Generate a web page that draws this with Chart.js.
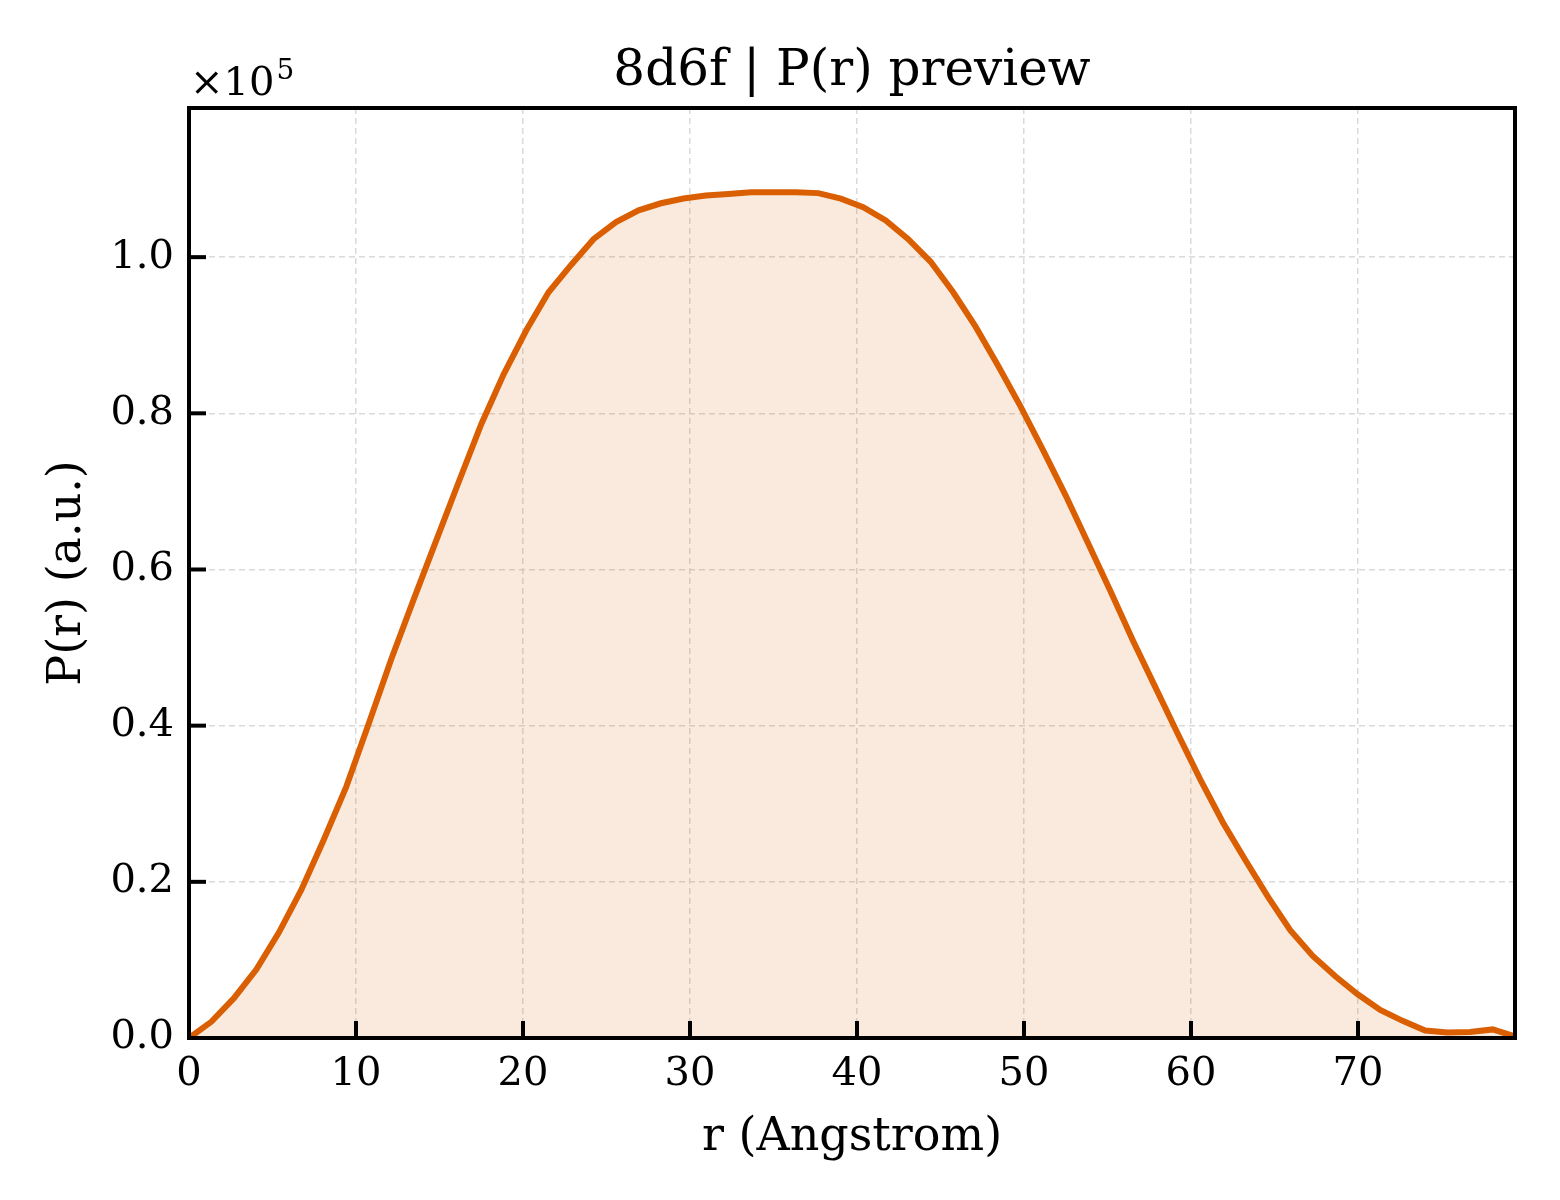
<!DOCTYPE html>
<html>
<head>
<meta charset="utf-8">
<script src="https://cdn.jsdelivr.net/npm/chart.js@4/dist/chart.umd.min.js"></script>
<style>
  html, body { margin: 0; padding: 0; background: #fff; }
  #wrap { width: 1560px; height: 1200px; }
</style>
</head>
<body>
<div id="wrap"><canvas id="pr" width="1560" height="1200"></canvas></div>
<script>
const rValues = [
  0.00, 1.35, 2.69, 4.04, 5.38, 6.73, 8.07, 9.42, 10.77, 12.11,
  13.46, 14.80, 16.15, 17.50, 18.84, 20.19, 21.53, 22.88, 24.22, 25.57,
  26.92, 28.26, 29.61, 30.95, 32.30, 33.65, 34.99, 36.34, 37.68, 39.03,
  40.37, 41.72, 43.07, 44.41, 45.76, 47.10, 48.45, 49.79, 51.14, 52.49,
  53.83, 55.18, 56.52, 57.87, 59.22, 60.56, 61.91, 63.25, 64.60, 65.94,
  67.29, 68.64, 69.98, 71.33, 72.67, 74.02, 75.37, 76.71, 78.06, 79.40
];
const prValues = [
  0, 2100, 5100, 8800, 13500, 19000, 25400, 32200, 40300, 48500,
  56200, 63700, 71200, 78600, 85000, 90600, 95500, 99000, 102300, 104500,
  106000, 106900, 107500, 107900, 108100, 108300, 108300, 108300, 108200, 107500,
  106400, 104700, 102300, 99400, 95500, 91100, 86100, 80900, 75300, 69500,
  63400, 57200, 50900, 44900, 38900, 33100, 27600, 22800, 18100, 13800,
  10500, 7900, 5600, 3600, 2200, 950, 700, 770, 1100, 200
];
const xTicks = [0, 10, 20, 30, 40, 50, 60, 70];
const yTicks = [0, 20000, 40000, 60000, 80000, 100000];

const titleText = '8d6f | P(r) preview';
const lineColor = '#d95f02';
const serif = "'DejaVu Serif', 'Liberation Serif', serif";

Chart.defaults.font.family = serif;
Chart.defaults.color = '#000';

// frame, inward ticks, title and the x10^5 offset label
const framePlugin = {
  id: 'frame',
  afterDraw(chart) {
    const { ctx, chartArea: a, scales } = chart;
    ctx.save();
    ctx.strokeStyle = '#000';
    ctx.lineWidth = 4;
    const tl = 17;
    scales.x.ticks.forEach(t => {
      const px = scales.x.getPixelForValue(t.value);
      ctx.beginPath();
      ctx.moveTo(px, a.bottom);
      ctx.lineTo(px, a.bottom - tl);
      ctx.stroke();
    });
    scales.y.ticks.forEach(t => {
      const py = scales.y.getPixelForValue(t.value);
      ctx.beginPath();
      ctx.moveTo(a.left, py);
      ctx.lineTo(a.left + tl, py);
      ctx.stroke();
    });
    ctx.strokeRect(a.left, a.top, a.right - a.left, a.bottom - a.top);

    ctx.fillStyle = '#000';
    ctx.textBaseline = 'alphabetic';
    ctx.textAlign = 'center';
    ctx.font = '50px ' + serif;
    ctx.fillText(titleText, (a.left + a.right) / 2, 85);

    ctx.textAlign = 'left';
    ctx.font = '40px ' + serif;
    const base = '\u00d710';
    ctx.fillText(base, a.left + 1, 95);
    const w = ctx.measureText(base).width;
    ctx.font = '28px ' + serif;
    ctx.fillText('5', a.left + 3 + w, 79);
    ctx.restore();
  }
};

new Chart(document.getElementById('pr'), {
  type: 'line',
  data: {
    datasets: [{
      data: rValues.map((r, i) => ({ x: r, y: prValues[i] })),
      borderColor: lineColor,
      backgroundColor: 'rgba(217, 95, 2, 0.13)',
      borderWidth: 6,
      fill: 'origin',
      tension: 0,
      pointRadius: 0
    }]
  },
  options: {
    responsive: false,
    devicePixelRatio: 1,
    animation: false,
    layout: { padding: { top: 108, right: 45, left: 0, bottom: 0 } },
    plugins: {
      legend: { display: false },
      tooltip: { enabled: false }
    },
    scales: {
      x: {
        type: 'linear',
        min: 0,
        max: 79.4,
        afterFit: s => { s.height = 162; },
        afterBuildTicks: s => { s.ticks = xTicks.map(v => ({ value: v })); },
        ticks: { font: { size: 40 }, padding: 13, color: '#000', includeBounds: false, maxRotation: 0 },
        grid: { color: '#dadada', lineWidth: 1.5, drawTicks: false },
        border: { display: false, dash: [6, 4] },
        title: {
          display: true,
          text: 'r (Angstrom)',
          font: { size: 46 },
          color: '#000',
          padding: { top: 0, bottom: 34 }
        }
      },
      y: {
        min: 0,
        max: 119100,
        afterFit: s => { s.width = 189; },
        afterBuildTicks: s => { s.ticks = yTicks.map(v => ({ value: v })); },
        ticks: {
          font: { size: 40 },
          padding: 15,
          color: '#000',
          includeBounds: false,
          callback: v => (v / 1e5).toFixed(1)
        },
        grid: { color: '#dadada', lineWidth: 1.5, drawTicks: false },
        border: { display: false, dash: [6, 4] },
        title: {
          display: true,
          text: 'P(r) (a.u.)',
          font: { size: 46 },
          color: '#000',
          padding: { top: 40, bottom: 0 }
        }
      }
    }
  },
  plugins: [framePlugin]
});
</script>
</body>
</html>
